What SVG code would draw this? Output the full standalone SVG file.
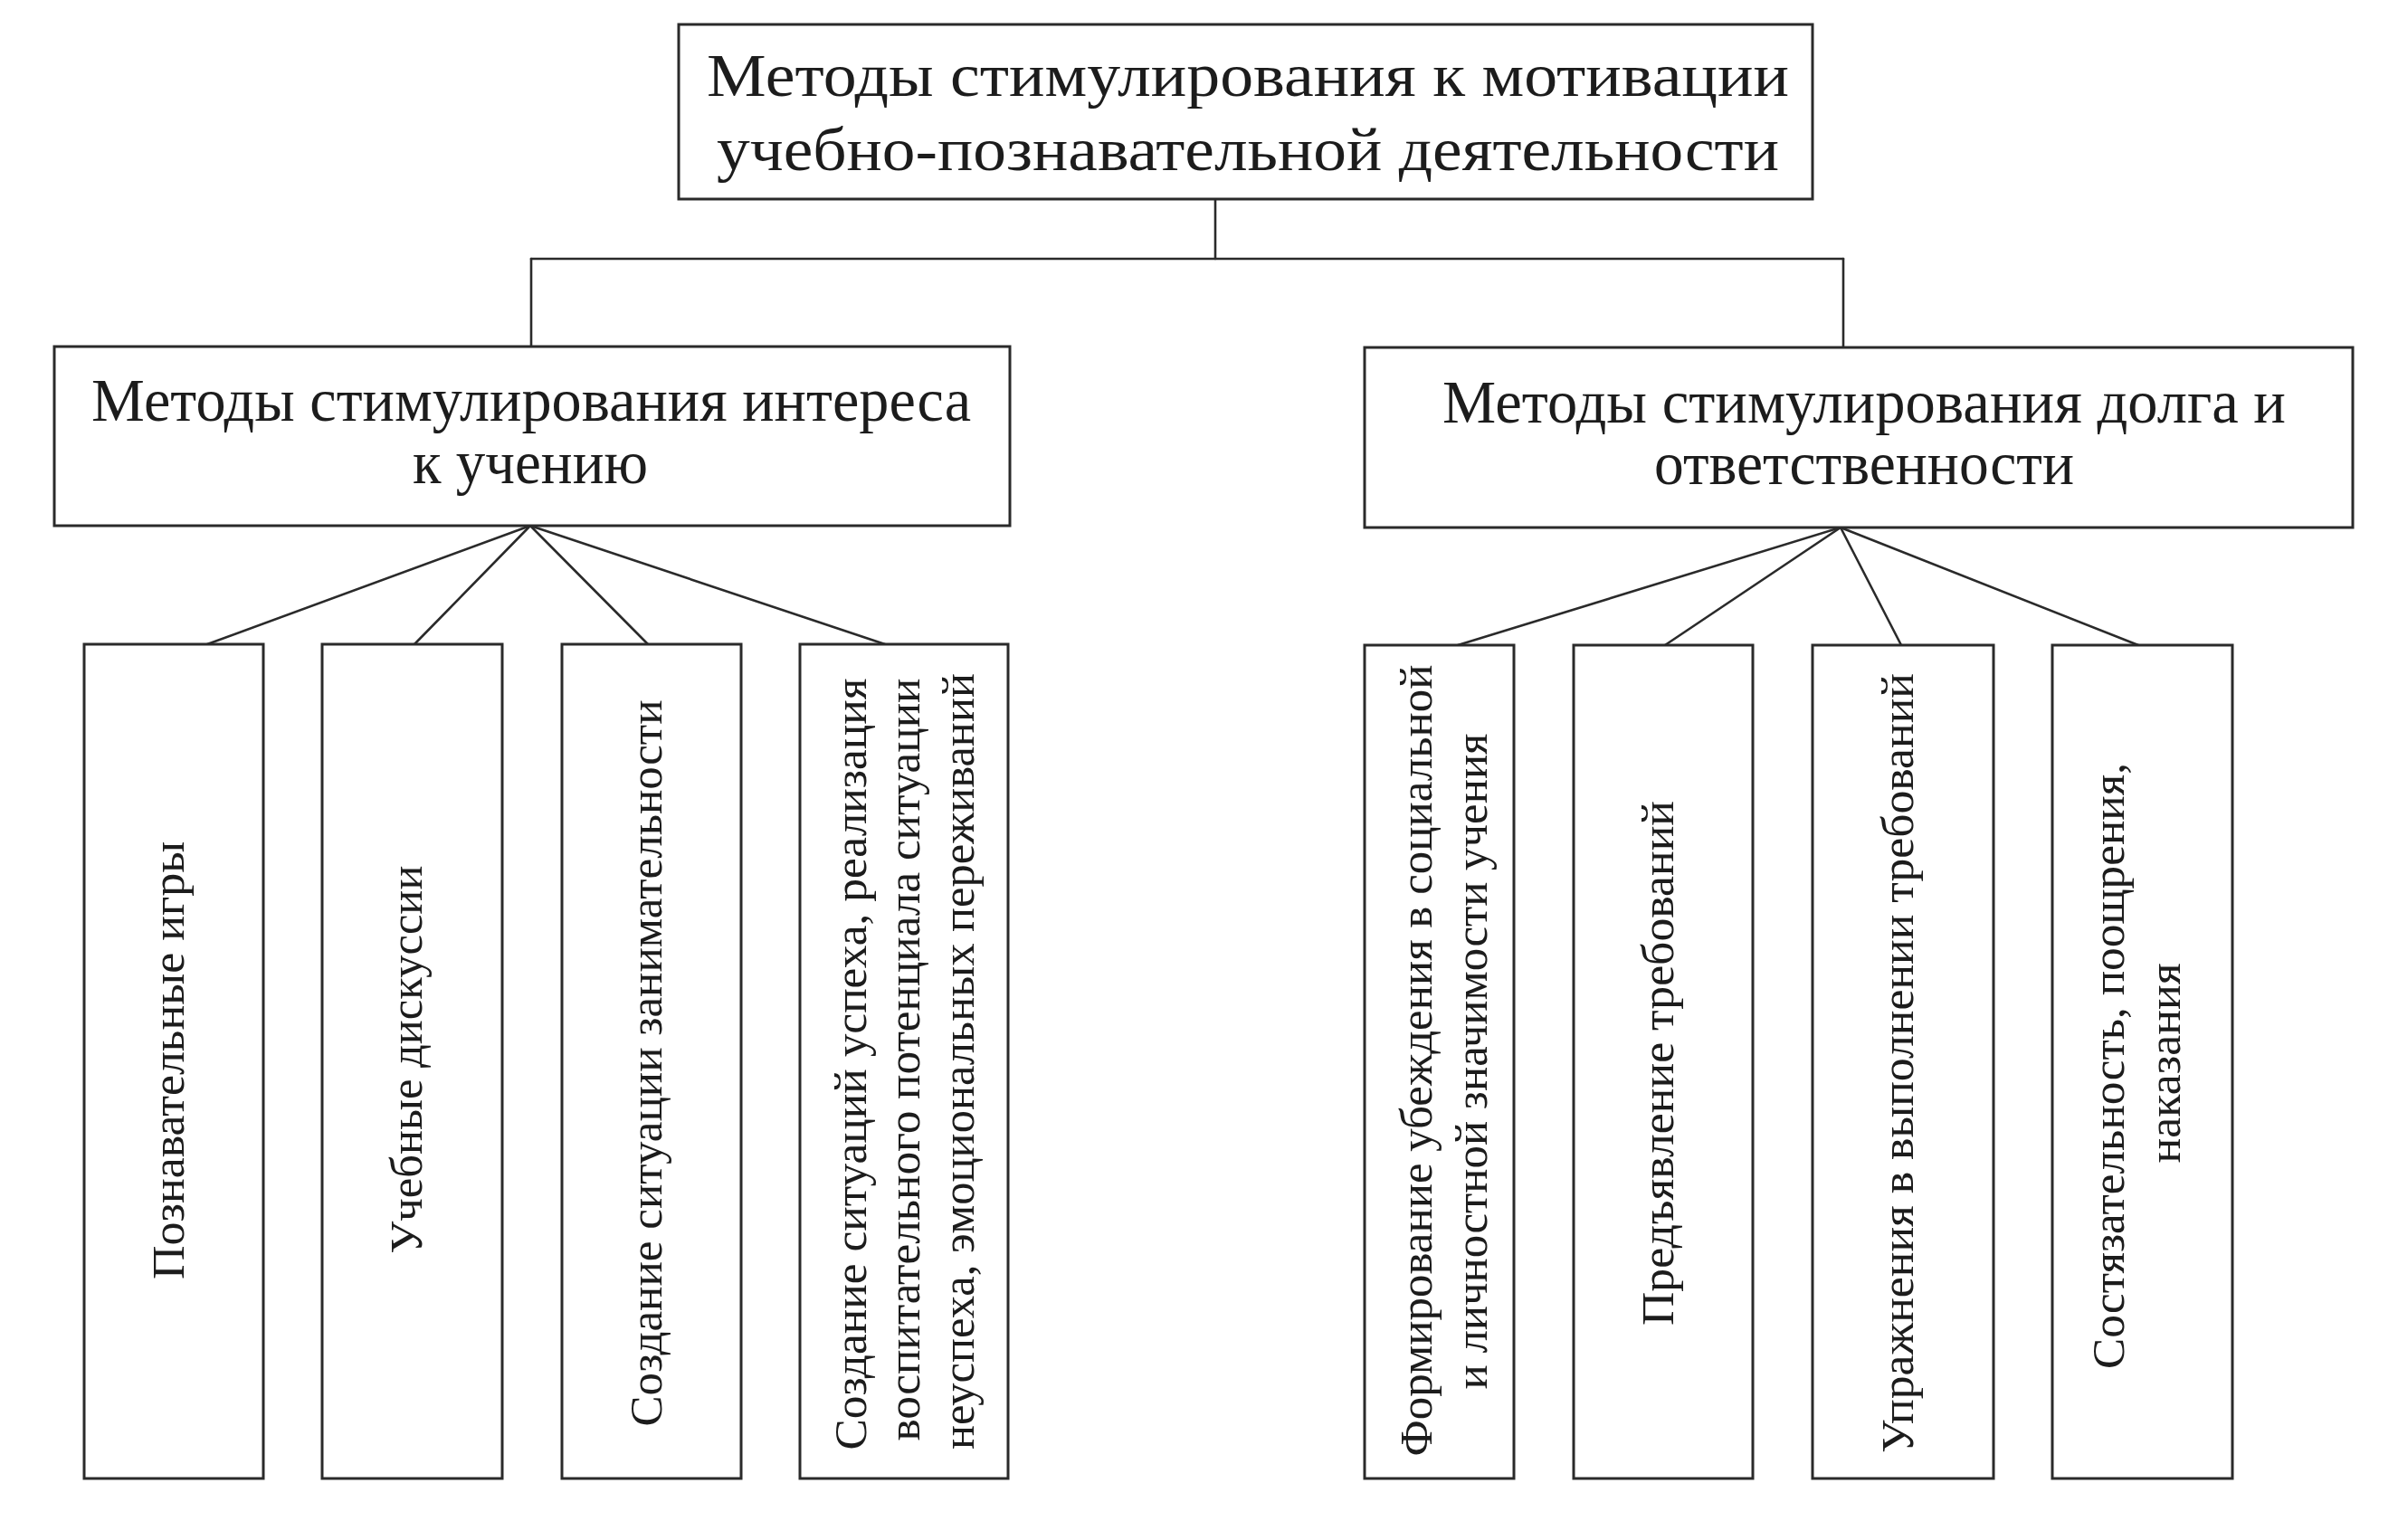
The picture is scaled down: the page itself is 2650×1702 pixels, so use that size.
<svg xmlns="http://www.w3.org/2000/svg" width="2650" height="1702" viewBox="0 0 2650 1702">
<style>
.box{fill:#ffffff;stroke:#2a2a2a;stroke-width:3}
.conn line{stroke:#2a2a2a;stroke-width:2.6;stroke-linecap:round}
text{font-family:"Liberation Serif","Times New Roman",serif;fill:#1c1c1c;text-anchor:middle}
.big{font-size:67px}
.small{font-size:51px}
</style>
<rect x="0" y="0" width="2650" height="1702" fill="#ffffff"/>
<g id="connectors" class="conn">
<line x1="1343" y1="220" x2="1343" y2="286"/>
<line x1="587" y1="286" x2="2037" y2="286"/>
<line x1="587" y1="286" x2="587" y2="383"/>
<line x1="2037" y1="286" x2="2037" y2="384"/>
<line x1="586" y1="581" x2="229" y2="712"/>
<line x1="586" y1="581" x2="458" y2="712"/>
<line x1="586" y1="581" x2="716" y2="712"/>
<line x1="586" y1="581" x2="978" y2="712"/>
<line x1="2034" y1="583" x2="1611" y2="713"/>
<line x1="2034" y1="583" x2="1840" y2="713"/>
<line x1="2034" y1="583" x2="2101" y2="713"/>
<line x1="2034" y1="583" x2="2363" y2="713"/>
</g>
<g id="root">
<rect class="box" x="750" y="27" width="1253" height="193"/>
<text class="big" x="1379" y="106" textLength="1196" lengthAdjust="spacingAndGlyphs">Методы стимулирования к мотивации</text>
<text class="big" x="1379" y="188" textLength="1174" lengthAdjust="spacingAndGlyphs">учебно-познавательной деятельности</text>
</g>
<g id="interest">
<rect class="box" x="60" y="383" width="1056" height="198"/>
<text class="big" x="587" y="465" textLength="972" lengthAdjust="spacingAndGlyphs">Методы стимулирования интереса</text>
<text class="big" x="586" y="534" textLength="260" lengthAdjust="spacingAndGlyphs">к учению</text>
</g>
<g id="duty">
<rect class="box" x="1508" y="384" width="1092" height="199"/>
<text class="big" x="2060" y="467" textLength="932" lengthAdjust="spacingAndGlyphs">Методы стимулирования долга и</text>
<text class="big" x="2060" y="535" textLength="464" lengthAdjust="spacingAndGlyphs">ответственности</text>
</g>
<g id="games">
<rect class="box" x="93" y="712" width="198" height="922"/>
<text class="small" transform="translate(203,1172) rotate(-90)" textLength="484" lengthAdjust="spacingAndGlyphs">Познавательные игры</text>
</g>
<g id="discussions">
<rect class="box" x="356" y="712" width="199" height="922"/>
<text class="small" transform="translate(466,1171) rotate(-90)" textLength="429" lengthAdjust="spacingAndGlyphs">Учебные дискуссии</text>
</g>
<g id="entertainment">
<rect class="box" x="621" y="712" width="198" height="922"/>
<text class="small" transform="translate(731,1175) rotate(-90)" textLength="803" lengthAdjust="spacingAndGlyphs">Создание ситуации занимательности</text>
</g>
<g id="success">
<rect class="box" x="884" y="712" width="230" height="922"/>
<text class="small" transform="translate(957,1176) rotate(-90)" textLength="853" lengthAdjust="spacingAndGlyphs">Создание ситуаций успеха, реализация</text>
<text class="small" transform="translate(1016,1171) rotate(-90)" textLength="843" lengthAdjust="spacingAndGlyphs">воспитательного потенциала ситуации</text>
<text class="small" transform="translate(1076,1173) rotate(-90)" textLength="858" lengthAdjust="spacingAndGlyphs">неуспеха, эмоциональных переживаний</text>
</g>
<g id="conviction">
<rect class="box" x="1508" y="713" width="165" height="921"/>
<text class="small" transform="translate(1582,1172) rotate(-90)" textLength="875" lengthAdjust="spacingAndGlyphs">Формирование убеждения в социальной</text>
<text class="small" transform="translate(1643,1173) rotate(-90)" textLength="725" lengthAdjust="spacingAndGlyphs">и личностной значимости учения</text>
</g>
<g id="requirements">
<rect class="box" x="1739" y="713" width="198" height="921"/>
<text class="small" transform="translate(1849,1175) rotate(-90)" textLength="580" lengthAdjust="spacingAndGlyphs">Предъявление требований</text>
</g>
<g id="exercises">
<rect class="box" x="2003" y="713" width="200" height="921"/>
<text class="small" transform="translate(2114,1175) rotate(-90)" textLength="862" lengthAdjust="spacingAndGlyphs">Упражнения в выполнении требований</text>
</g>
<g id="competition">
<rect class="box" x="2268" y="713" width="199" height="921"/>
<text class="small" transform="translate(2347,1178) rotate(-90)" textLength="670" lengthAdjust="spacingAndGlyphs">Состязательность, поощрения,</text>
<text class="small" transform="translate(2409,1175) rotate(-90)" textLength="221" lengthAdjust="spacingAndGlyphs">наказания</text>
</g>
</svg>
